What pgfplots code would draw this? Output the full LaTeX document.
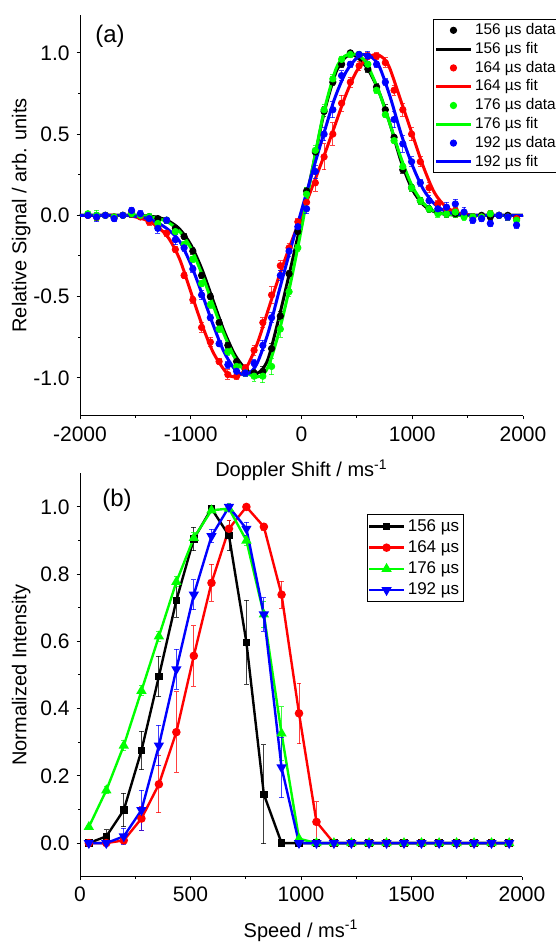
\documentclass[border=0pt]{standalone}
\usepackage{fontspec}
\setmainfont{Liberation Sans}
\usepackage{pgfplots}
\usepackage{pgfplotstable}
\pgfplotsset{compat=1.18}

\definecolor{cR}{RGB}{255,0,0}
\definecolor{cG}{RGB}{0,255,0}
\definecolor{cB}{RGB}{0,0,255}

% Doppler profiles: b=156, r=164, g=176, u=192 us (value, error)
\pgfplotstableread{
x     b     be    r     re    g     ge    u     ue
-1929  0.00 0.01  0.00 0.01  0.01 0.01  0.00 0.01
-1850 -0.01 0.02 -0.01 0.02  0.00 0.03 -0.01 0.03
-1771  0.00 0.01  0.00 0.01  0.00 0.01  0.00 0.01
-1692 -0.01 0.01 -0.01 0.01 -0.01 0.01 -0.02 0.02
-1613  0.00 0.01  0.00 0.01  0.00 0.01  0.00 0.01
-1534  0.01 0.02  0.02 0.02  0.01 0.01  0.03 0.02
-1455  0.00 0.01 -0.01 0.01  0.00 0.02  0.01 0.02
-1376 -0.01 0.01 -0.04 0.02 -0.01 0.02 -0.02 0.02
-1297 -0.02 0.01 -0.07 0.02 -0.05 0.02 -0.08 0.03
-1218 -0.03 0.02 -0.11 0.02 -0.03 0.02 -0.03 0.02
-1139 -0.08 0.02 -0.21 0.02 -0.10 0.02 -0.15 0.03
-1060 -0.13 0.02 -0.37 0.02 -0.18 0.02 -0.20 0.02
-981  -0.22 0.02 -0.52 0.02 -0.27 0.02 -0.33 0.02
-902  -0.37 0.02 -0.69 0.03 -0.42 0.02 -0.49 0.03
-823  -0.50 0.02 -0.78 0.03 -0.55 0.02 -0.63 0.02
-744  -0.66 0.02 -0.90 0.02 -0.70 0.02 -0.79 0.02
-665  -0.80 0.02 -0.98 0.03 -0.84 0.02 -0.92 0.02
-586  -0.90 0.02 -0.99 0.02 -0.93 0.02 -0.96 0.02
-507  -0.95 0.02 -0.94 0.02 -0.97 0.02 -0.97 0.02
-428  -0.97 0.02 -0.83 0.03 -0.99 0.03 -0.91 0.02
-349  -0.96 0.03 -0.66 0.03 -0.99 0.04 -0.80 0.03
-270  -0.82 0.03 -0.49 0.05 -0.93 0.05 -0.63 0.03
-191  -0.62 0.03 -0.31 0.03 -0.70 0.05 -0.37 0.03
-112  -0.36 0.02 -0.20 0.03 -0.47 0.03 -0.22 0.03
-33   -0.10 0.02 -0.04 0.02 -0.20 0.02 -0.07 0.03
46     0.15 0.02  0.08 0.04  0.13 0.04  0.04 0.03
125    0.39 0.02  0.20 0.05  0.40 0.03  0.27 0.04
204    0.64 0.03  0.36 0.08  0.65 0.03  0.50 0.04
283    0.82 0.02  0.50 0.07  0.84 0.03  0.65 0.05
362    0.93 0.02  0.69 0.05  0.96 0.02  0.86 0.03
441    1.00 0.01  0.82 0.03  0.99 0.02  0.93 0.02
520    0.99 0.02  0.92 0.03  0.99 0.02  0.99 0.02
599    0.90 0.02  0.98 0.02  0.93 0.02  0.98 0.03
678    0.79 0.02  0.98 0.02  0.77 0.02  0.93 0.02
757    0.65 0.03  0.94 0.03  0.62 0.02  0.82 0.02
836    0.48 0.02  0.77 0.03  0.46 0.02  0.59 0.05
915    0.28 0.02  0.65 0.04  0.30 0.02  0.44 0.05
994    0.17 0.02  0.50 0.04  0.17 0.02  0.33 0.03
1073   0.09 0.02  0.33 0.03  0.09 0.02  0.20 0.02
1152   0.04 0.02  0.17 0.03  0.04 0.02  0.09 0.03
1231   0.02 0.01  0.07 0.02  0.01 0.02  0.04 0.02
1310   0.01 0.02  0.04 0.02  0.01 0.02  0.05 0.03
1389   0.01 0.02  0.03 0.02  0.02 0.03  0.07 0.03
1468   0.00 0.02  0.01 0.02 -0.01 0.02  0.02 0.03
1547  -0.01 0.01 -0.01 0.02 -0.01 0.02 -0.03 0.02
1626   0.00 0.01 -0.01 0.02 -0.01 0.02 -0.02 0.02
1705  -0.01 0.02  0.01 0.02  0.01 0.02 -0.05 0.02
1784   0.00 0.02  0.00 0.02  0.00 0.02  0.00 0.02
1863   0.00 0.01 -0.01 0.02 -0.01 0.02 -0.01 0.02
1942  -0.02 0.02 -0.02 0.02 -0.03 0.02 -0.06 0.02
}\doppler

% speed distributions
\pgfplotstableread{
x    b     be    r     re    g     ge    u     ue
40   0     0     0     0     0.048 0.005 0     0
119  0.02  0.02  0     0     0.157 0.01  0     0
198  0.098 0.05  0.008 0.01  0.29  0.015 0.02  0.025
278  0.275 0.057 0.073 0.035 0.453 0.015 0.098 0.06
357  0.496 0.06  0.175 0.085 0.615 0.015 0.29  0.06
436  0.722 0.05  0.33  0.12  0.777 0.015 0.517 0.06
515  0.905 0.035 0.557 0.09  0.908 0.015 0.739 0.045
595  0.995 0     0.774 0.055 0.99  0.005 0.913 0.02
674  0.915 0.045 0.935 0.025 0.995 0.005 1.0   0.01
753  0.597 0.125 1.0   0     0.9   0.015 0.935 0.02
832  0.145 0.147 0.941 0.01  0.68  0.04  0.68  0.05
912  0     0     0.739 0.04  0.326 0.08  0.225 0.09
991  0     0     0.386 0.09  0.013 0.005 0     0
1070 0     0     0.063 0.06  0     0     0     0
1149 0     0     0     0     0     0     0     0
1228 0     0     0     0     0     0     0     0
1308 0     0     0     0     0     0     0     0
1387 0     0     0     0     0     0     0     0
1466 0     0     0     0     0     0     0     0
1545 0     0     0     0     0     0     0     0
1625 0     0     0     0     0     0     0     0
1704 0     0     0     0     0     0     0     0
1783 0     0     0     0     0     0     0     0
1862 0     0     0     0     0     0     0     0
1942 0     0     0     0     0     0     0     0
}\speed

\pgfplotsset{
  panel/.style={
    scale only axis, axis lines=left,
    axis line style={-, line width=0.5pt},
    tick align=outside, major tick length=1.7pt, minor tick length=1pt,
    every tick/.style={black, line width=0.5pt},
    tick label style={font=\fontsize{10.5}{12}\selectfont},
    label style={font=\fontsize{12}{14}\selectfont},
    scaled ticks=false, clip=false,
    xticklabel style={/pgf/number format/.cd, fixed, precision=0, 1000 sep={}, assume math mode=true},
    yticklabel style={/pgf/number format/.cd, fixed, fixed zerofill, precision=1, assume math mode=true},
    every axis y label/.style={at={(axis description cs:-0.133,0.5)}, rotate=90, anchor=center},
    legend cell align=left,
  },
  errs/.style={
    error bars/y dir=both, error bars/y explicit,
    error bars/error bar style={line width=0.45pt, opacity=0.75},
    error bars/error mark options={rotate=90, mark size=1.2pt, line width=0.45pt}},
  dat/.style={only marks, mark=*, mark size=1.6pt, #1, errs},
  fit/.style={#1, line width=1.5pt, no marks, smooth, tension=0.5},
  spd/.style={#1, line width=1.2pt, errs},
}

\begin{document}
\begin{tikzpicture}
\useasboundingbox (0,0) rectangle (278pt,471pt);

\begin{axis}[panel,
  at={(40pt,263pt)}, anchor=south west,
  width=221.5pt, height=200.65pt,
  xmin=-2000, xmax=2000, ymin=-1.235, ymax=1.235,
  xtick={-2000,-1000,0,1000,2000}, minor xtick={-1500,-500,500,1500},
  ytick={-1,-0.5,0,0.5,1}, minor ytick={-0.75,-0.25,0.25,0.75},
  xlabel={Doppler Shift / ms\textsuperscript{-1}},
  ylabel={Relative Signal / arb. units},
  every axis x label/.style={at={(axis description cs:0.5,-0.152)}, anchor=base},
  legend style={at={(axis description cs:0.7975,0.9885)}, anchor=north west,
    font=\fontsize{7.7}{8}\selectfont, draw=black,
    inner sep=0.6pt, row sep=0pt,
    nodes={inner xsep=1.5pt, inner ysep=1.2pt, text height=5.6pt, text depth=1.4pt}},
]
\addplot[dat=black] table[x=x, y=b, y error=be] {\doppler};
\addlegendentry{156 µs data}
\addplot[fit=black] coordinates {
  (-2000,0)(-1500,0)(-1400,-0.004)(-1300,-0.012)(-1200,-0.035)(-1100,-0.085)
  (-1000,-0.18)(-900,-0.33)(-800,-0.52)(-700,-0.71)(-600,-0.86)(-500,-0.95)
  (-430,-0.975)(-370,-0.96)(-300,-0.88)(-200,-0.62)(-100,-0.33)(0,-0.03)
  (100,0.29)(200,0.62)(300,0.86)(350,0.93)(400,0.975)(450,0.99)(500,0.975)
  (600,0.9)(700,0.76)(800,0.56)(900,0.33)(1000,0.16)(1100,0.065)(1200,0.022)
  (1300,0.007)(1400,0.002)(1500,0)(2000,0)};
\addlegendentry{156 µs fit}
\addplot[dat=cR] table[x=x, y=r, y error=re] {\doppler};
\addlegendentry{164 µs data}
\addplot[fit=cR] coordinates {
  (-2000,0)(-1600,0)(-1500,-0.01)(-1400,-0.03)(-1300,-0.07)(-1200,-0.14)
  (-1100,-0.27)(-1000,-0.47)(-900,-0.67)(-800,-0.84)(-700,-0.95)(-640,-0.99)
  (-580,-0.99)(-500,-0.94)(-400,-0.79)(-300,-0.58)(-200,-0.37)(-100,-0.18)
  (0,0)(100,0.18)(200,0.36)(300,0.55)(400,0.74)(500,0.89)(600,0.97)(680,0.99)
  (750,0.96)(800,0.9)(900,0.7)(1000,0.5)(1100,0.3)(1200,0.14)(1300,0.055)
  (1400,0.018)(1500,0.005)(1600,0)(2000,0)};
\addlegendentry{164 µs fit}
\addplot[dat=cG] table[x=x, y=g, y error=ge] {\doppler};
\addlegendentry{176 µs data}
\addplot[fit=cG] coordinates {
  (-2000,0)(-1500,0)(-1400,-0.006)(-1300,-0.018)(-1200,-0.045)(-1100,-0.1)
  (-1000,-0.2)(-900,-0.36)(-800,-0.55)(-700,-0.73)(-600,-0.88)(-500,-0.965)
  (-430,-0.99)(-370,-0.99)(-300,-0.93)(-200,-0.71)(-100,-0.42)(0,-0.08)
  (100,0.29)(200,0.63)(300,0.88)(360,0.96)(420,0.99)(500,0.99)(560,0.96)
  (600,0.92)(700,0.76)(800,0.56)(900,0.35)(1000,0.18)(1100,0.075)(1200,0.025)
  (1300,0.008)(1400,0.002)(1500,0)(2000,0)};
\addlegendentry{176 µs fit}
\addplot[dat=cB] table[x=x, y=u, y error=ue] {\doppler};
\addlegendentry{192 µs data}
\addplot[fit=cB] coordinates {
  (-2000,0)(-1600,0)(-1500,-0.006)(-1400,-0.018)(-1300,-0.045)(-1200,-0.09)
  (-1100,-0.16)(-1000,-0.3)(-900,-0.48)(-800,-0.67)(-700,-0.84)(-600,-0.95)
  (-530,-0.98)(-470,-0.97)(-400,-0.91)(-300,-0.72)(-200,-0.46)(-100,-0.21)
  (0,0.03)(100,0.27)(200,0.5)(300,0.72)(400,0.88)(500,0.97)(560,0.99)
  (620,0.98)(700,0.92)(800,0.73)(900,0.5)(1000,0.31)(1100,0.16)(1200,0.07)
  (1300,0.025)(1400,0.008)(1500,0.002)(1600,0)(2000,0)};
\addlegendentry{192 µs fit}
\node[font=\fontsize{12}{14}\selectfont] at (axis description cs:0.0677,0.9457) {(a)};
\end{axis}

\begin{axis}[panel,
  at={(40pt,32.65pt)}, anchor=south west,
  width=221pt, height=201.7pt,
  xmin=0, xmax=2000, ymin=-0.1, ymax=1.1,
  xtick={0,500,1000,1500,2000}, minor xtick={250,750,1250,1750},
  ytick={0,0.2,0.4,0.6,0.8,1}, minor ytick={0.1,0.3,0.5,0.7,0.9},
  xlabel={Speed / ms\textsuperscript{-1}},
  ylabel={Normalized Intensity},
  every axis x label/.style={at={(axis description cs:0.5,-0.150)}, anchor=base},
  legend style={at={(axis description cs:0.6486,0.8984)}, anchor=north west,
    font=\fontsize{8.5}{9}\selectfont, draw=black,
    inner sep=0.6pt, row sep=0pt,
    nodes={inner xsep=1.5pt, inner ysep=1.4pt, text height=6.2pt, text depth=1.6pt}},
]
\addplot[mark=square*, mark size=1.3pt, spd=black] table[x=x, y=b, y error=be] {\speed};
\addlegendentry{156 µs}
\addplot[mark=*, mark size=1.5pt, spd=cR] table[x=x, y=r, y error=re] {\speed};
\addlegendentry{164 µs}
\addplot[mark=triangle*, mark size=1.8pt, spd=cG] table[x=x, y=g, y error=ge] {\speed};
\addlegendentry{176 µs}
\addplot[mark=triangle*, mark size=1.8pt, mark options={rotate=180}, spd=cB] table[x=x, y=u, y error=ue] {\speed};
\addlegendentry{192 µs}
\node[font=\fontsize{12}{14}\selectfont] at (axis description cs:0.0837,0.934) {(b)};
\end{axis}
\end{tikzpicture}
\end{document}
